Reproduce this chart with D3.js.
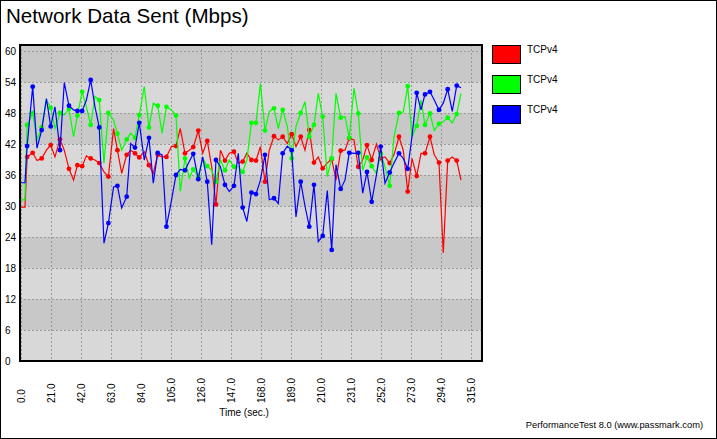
<!DOCTYPE html>
<html>
<head>
<meta charset="utf-8">
<script src="https://cdn.jsdelivr.net/npm/d3@7"></script>
<style>
  html, body { margin: 0; padding: 0; background: #fff; }
  svg { display: block; font-family: "Liberation Sans", Arial, sans-serif; }
</style>
</head>
<body>
<svg id="chart" width="717" height="439"></svg>
<script>
// ---- data ----
const title = "Network Data Sent (Mbps)";
const xLabel = "Time (sec.)";
const footer = "PerformanceTest 8.0 (www.passmark.com)";
const seriesNames = ["TCPv4", "TCPv4", "TCPv4"];
const seriesColors = ["#ff0000", "#00ff00", "#0000ff"];
const xTicks = [0, 21, 42, 63, 84, 105, 126, 147, 168, 189, 210, 231, 252, 273, 294, 315];
const yTicks = [0, 6, 12, 18, 24, 30, 36, 42, 48, 54, 60];

const times = [0, 3, 4.5, 8.4, 11.4, 14.7, 18, 21, 24, 27.5, 30.5, 33.8, 37, 39.7, 43, 46, 49, 52, 55, 58.3,
  61.4, 65, 67.7, 70.7, 74.2, 77, 80, 83, 86.5, 89.8, 92.8, 95.9, 99, 102, 105.5, 108.7, 111.7, 115, 118, 120.8,
  124.3, 127.4, 130.6, 133.7, 136.7, 139.8, 143, 146, 149.3, 152.3, 155.4, 158.3, 161.5, 164.7, 167.8, 171, 174, 177.3, 180.3, 183.4,
  186.6, 189.7, 192.7, 196, 199, 202, 205.3, 208.3, 211.4, 214.6, 217.7, 220.7, 224, 227, 230, 233.3, 236.3, 239.4, 242.4, 245.7,
  249, 252, 255, 258.3, 261.3, 264.8, 267.8, 270.9, 273.9, 277.2, 280.2, 283, 286.5, 289.5, 292.8, 295.8, 298.9, 302.1, 305.2, 308.2];

const redValues = [29.8, 29.8, 39.5, 40.3, 38.8, 39.2, 40.8, 41.8, 39.5, 42.9, 40.8, 37.2, 35, 37.9, 37.7, 39.7, 39.2, 38.9, 38.3, 36.6,
  35.7, 45, 40.8, 36.3, 39.9, 40.8, 40.2, 39.4, 40.5, 37.9, 36.3, 39.9, 39.5, 39.5, 41.5, 41.6, 45, 40.2, 40.8, 41.4,
  44.6, 40.2, 42.6, 37.6, 30.3, 40.8, 38.8, 40.2, 40.5, 38.3, 38.6, 40.2, 38.9, 38.8, 41.5, 34.7, 40.8, 43.5, 42.8, 43.4,
  42.1, 43.9, 41.5, 43.4, 40.8, 44.7, 38.4, 39.5, 37.3, 38.3, 39.1, 35, 40.7, 40.8, 43.1, 42.8, 37.6, 38.9, 41.8, 38.9,
  42, 39.2, 39.5, 38.3, 39.9, 43.4, 40.8, 32.8, 39.2, 35.8, 40.2, 40.2, 43.4, 39.9, 38.4, 20.9, 38.8, 39.5, 38.8, 35];

const greenValues = [31.2, 31.2, 45.7, 48, 42.8, 45.2, 50.5, 49, 45, 48, 47.6, 48.8, 43.4, 47.5, 52.1, 49.2, 45.7, 51.2, 50.5, 38.3,
  48, 46.6, 44, 40.8, 42.9, 44.1, 43.2, 47.6, 53.1, 45.2, 49.9, 49.4, 44.1, 49.2, 48.6, 47.5, 32.8, 39.2, 35.4, 37.1,
  35.7, 39.2, 37.7, 36.9, 34.7, 38.9, 36.9, 38.9, 37.6, 37.6, 36.6, 38.9, 46.1, 46.1, 53.7, 44.6, 48.3, 48.9, 45, 48.6,
  45.4, 39.2, 45.4, 48, 50.2, 43.4, 45.7, 51.8, 47.3, 35.7, 39.2, 51.8, 47.1, 47.3, 43.2, 52.8, 47.9, 36.9, 39.4, 37.7,
  36.3, 40.2, 37.6, 33.9, 43.4, 48, 48.2, 53.2, 43.4, 45.5, 50.5, 45.7, 47.9, 44.6, 45.9, 46.3, 47.1, 46.1, 47.8, 51.8];

const blueValues = [34.5, 34.5, 41.6, 53.1, 41.2, 44.7, 50.8, 45.4, 49.2, 40.8, 53.9, 49.4, 48.6, 48.4, 48.4, 50.5, 54.4, 49.2, 45.2, 22.8,
  26.7, 33.7, 33.9, 29.6, 31.8, 42.1, 41.3, 46.1, 38.9, 43.2, 34.4, 40.3, 39.9, 26, 31, 36, 37.1, 36.9, 38.6, 40.1,
  35.2, 39.5, 34.7, 22.5, 38.9, 37.6, 34.1, 32.8, 33.9, 40.2, 29.7, 27, 32.6, 32.3, 35, 39.9, 31.2, 31.5, 30.5, 40.2,
  41.6, 40.8, 27.9, 34.7, 30, 26, 34.1, 23.1, 24.2, 33, 21.5, 38, 33.3, 35, 40.3, 40.2, 40.3, 32.5, 36.6, 30.8,
  36, 41.5, 34.4, 36.5, 38.3, 40.2, 39.2, 37.2, 43.4, 51.9, 48.6, 51.6, 52.1, 50.5, 48.6, 49.9, 52.6, 48.3, 53.3, 52.9];

const markerIdx = [2, 3, 5, 7, 9, 11, 13, 14, 16, 18, 20, 22, 24, 26, 27, 29, 31, 33, 35, 37, 39, 40, 42, 44, 46, 48, 50, 52, 53,
  55, 57, 59, 61, 63, 65, 66, 68, 70, 72, 74, 76, 78, 79, 81, 83, 85, 87, 89, 91, 92, 94, 96, 98];

const allSeries = [redValues, greenValues, blueValues];

// ---- layout ----
const svg = d3.select("#chart");
const W = 717, H = 439;
const plot = { left: 20, right: 482, top: 45, bottom: 361 };

const x = d3.scaleLinear().domain([0, 315]).range([20.7, 470.7]);
const y = d3.scaleLinear().domain([0, 60]).range([361, 51]);

// outer border
svg.append("rect").attr("x", 0.5).attr("y", 0.5).attr("width", W - 1).attr("height", H - 1)
  .attr("fill", "#fff").attr("stroke", "#000").attr("stroke-width", 1);

// title
svg.append("text").attr("x", 6).attr("y", 23).attr("font-size", 20.6).attr("fill", "#000").text(title);

// plot background bands
const bandG = svg.append("g");
bandG.append("rect").attr("x", plot.left).attr("y", plot.top)
  .attr("width", plot.right - plot.left).attr("height", plot.bottom - plot.top).attr("fill", "#d8d8d8");
for (let i = 0; i < yTicks.length - 1; i++) {
  if (i % 2 === 1) {
    const top = (i === yTicks.length - 2) ? plot.top : y(yTicks[i + 1]);
    bandG.append("rect").attr("x", plot.left).attr("y", top)
      .attr("width", plot.right - plot.left).attr("height", y(yTicks[i]) - top).attr("fill", "#c8c8c8");
  }
}

// gridlines
const gridG = svg.append("g").attr("stroke", "#9a9a9a").attr("stroke-width", 1).attr("stroke-dasharray", "2,2");
yTicks.forEach(v => {
  gridG.append("line").attr("x1", plot.left).attr("x2", plot.right)
    .attr("y1", Math.round(y(v)) + 0.5).attr("y2", Math.round(y(v)) + 0.5);
});
xTicks.forEach(v => {
  gridG.append("line").attr("y1", plot.top).attr("y2", plot.bottom)
    .attr("x1", Math.round(x(v)) + 0.5).attr("x2", Math.round(x(v)) + 0.5);
});

// series lines
const clip = svg.append("clipPath").attr("id", "clip").append("rect")
  .attr("x", plot.left).attr("y", plot.top).attr("width", plot.right - plot.left).attr("height", plot.bottom - plot.top);
const line = d3.line().x((d, i) => x(times[i])).y(d => y(d));
const seriesG = svg.append("g").attr("clip-path", "url(#clip)");
allSeries.forEach((vals, s) => {
  seriesG.append("path").datum(vals).attr("d", line).attr("fill", "none")
    .attr("stroke", seriesColors[s]).attr("stroke-width", 1.2).attr("stroke-linejoin", "miter");
  seriesG.selectAll(null).data(markerIdx).enter().append("circle")
    .attr("cx", i => x(times[i])).attr("cy", i => y(vals[i])).attr("r", 2.4)
    .attr("fill", seriesColors[s]);
});

// plot border
svg.append("rect").attr("x", plot.left).attr("y", plot.top)
  .attr("width", plot.right - plot.left).attr("height", plot.bottom - plot.top)
  .attr("fill", "none").attr("stroke", "#000").attr("stroke-width", 2);

// y axis
const yAxis = svg.append("g").call(d3.axisLeft(y).tickValues(yTicks).tickSize(0).tickFormat(d3.format("d")));
yAxis.select(".domain").remove();
yAxis.selectAll("text").attr("x", 5).attr("dy", "0.35em").attr("text-anchor", "start")
  .attr("font-size", 10).attr("font-family", "Liberation Sans, Arial, sans-serif").attr("fill", "#000");

// x axis
const xAxis = svg.append("g").attr("transform", `translate(0,${plot.bottom})`)
  .call(d3.axisBottom(x).tickValues(xTicks).tickSize(0).tickFormat(d => d.toFixed(1)));
xAxis.select(".domain").remove();
xAxis.selectAll("text").attr("transform", "rotate(-90)").attr("x", -42).attr("y", 0).attr("dy", "0.35em")
  .attr("text-anchor", "start").attr("font-size", 10)
  .attr("font-family", "Liberation Sans, Arial, sans-serif").attr("fill", "#000");

// x label
svg.append("text").attr("x", 244).attr("y", 416).attr("text-anchor", "middle")
  .attr("font-size", 10).attr("fill", "#000").text(xLabel);

// legend
const legG = svg.append("g");
seriesNames.forEach((name, i) => {
  legG.append("rect").attr("x", 492.5).attr("y", 45.5 + i * 30).attr("width", 28).attr("height", 18)
    .attr("fill", seriesColors[i]).attr("stroke", "#000").attr("stroke-width", 1);
  legG.append("text").attr("x", 527).attr("y", 53 + i * 30).attr("font-size", 10).attr("fill", "#000").text(name);
});

// footer
svg.append("text").attr("x", 703).attr("y", 428).attr("text-anchor", "end")
  .attr("font-size", 9.3).attr("fill", "#000").text(footer);
</script>
</body>
</html>
